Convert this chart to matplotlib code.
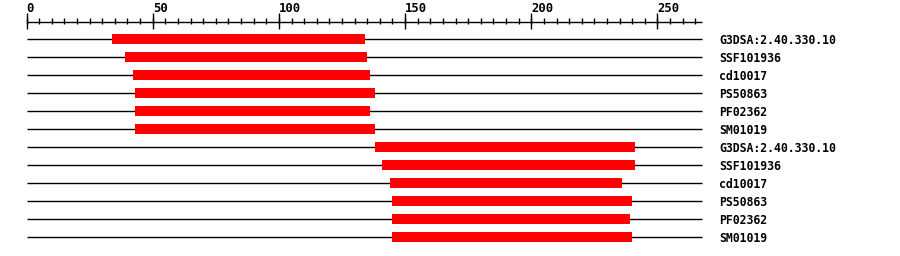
import matplotlib
matplotlib.use('Agg')
import matplotlib.pyplot as plt
import numpy as np

# domain hits, one row each
labels = ['G3DSA:2.40.330.10', 'SSF101936', 'cd10017', 'PS50863', 'PF02362', 'SM01019',
          'G3DSA:2.40.330.10', 'SSF101936', 'cd10017', 'PS50863', 'PF02362', 'SM01019']
starts = [34, 39, 42, 43, 43, 43, 138, 141, 144, 145, 145, 145]
ends = [134, 135, 136, 138, 136, 138, 241, 241, 236, 240, 239, 240]
seq_len = 267.5
major_ticks = [0, 50, 100, 150, 200, 250]

fig = plt.figure(figsize=(9, 2.56), dpi=100)
ax = fig.add_axes([0, 0, 1, 1])
ax.set_xlim(-10.5, 346.1)
ax.set_ylim(12.06, -2.167)
ax.axis('off')

font = dict(family='DejaVu Sans Mono', weight='bold', size=8.3)

# ruler
ruler_y = -0.944
ax.hlines(ruler_y, 0, seq_len, color='black', lw=1)
minor = np.arange(0, 266, 5)
ax.vlines(minor, ruler_y - 4 / 18, ruler_y + 2 / 18, color='black', lw=1)
ax.vlines(major_ticks, ruler_y - 9 / 18, ruler_y + 7 / 18, color='black', lw=1)
for t in major_ticks:
    ax.text(t, -1.68, str(t), ha='left', va='center', family='DejaVu Sans Mono',
            weight='bold', size=8.8)

# rows
rows = np.arange(len(labels))
ax.hlines(rows, 0, seq_len, color='black', lw=1, zorder=1)
ax.barh(rows, np.array(ends) - np.array(starts), left=starts, height=0.56,
        color='#ff0000', edgecolor='none', zorder=2)
for r, lab in zip(rows, labels):
    ax.text(274.4, r + 0.06, lab, ha='left', va='center', **font)

fig.savefig('out.png', dpi=100)
